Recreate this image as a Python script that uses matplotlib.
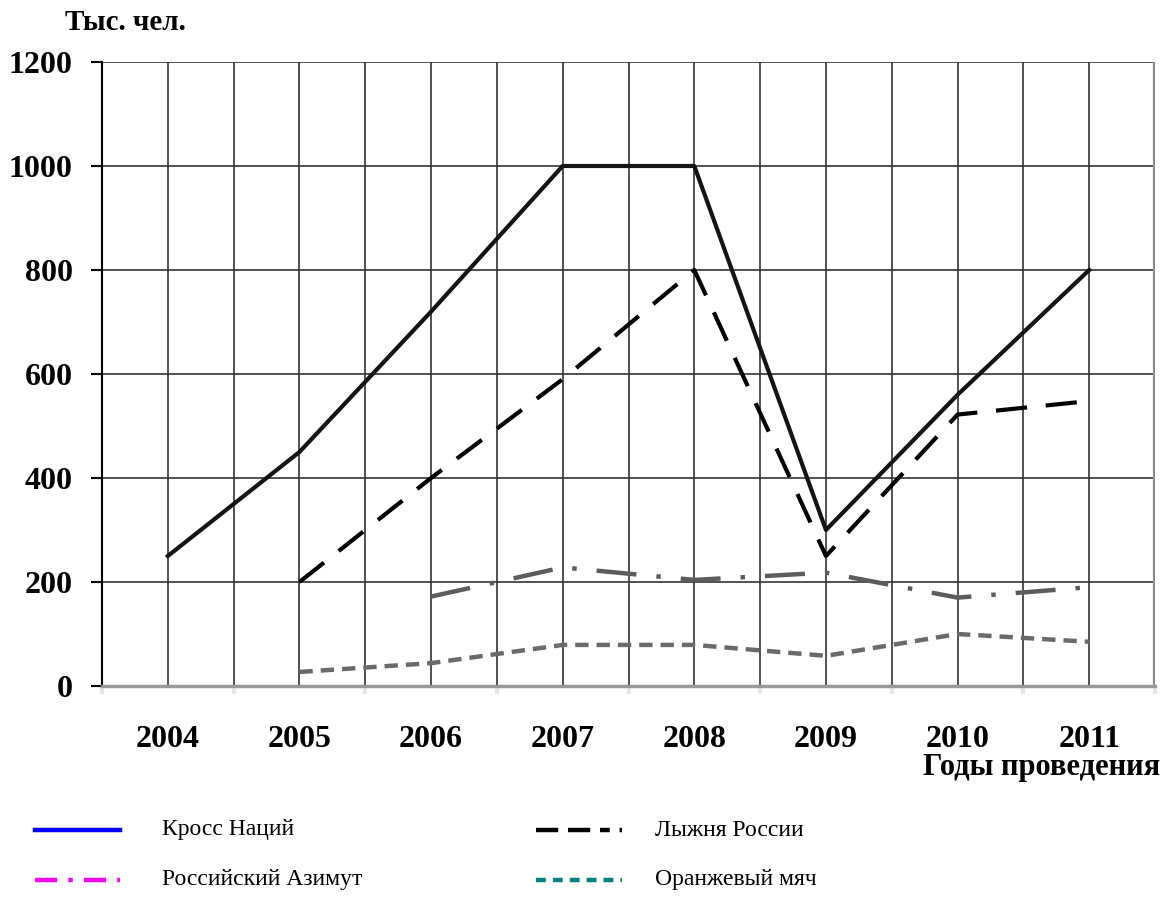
import matplotlib.pyplot as plt
from matplotlib.lines import Line2D

plt.rcParams["font.family"] = ["Liberation Serif", "DejaVu Serif"]

# Data (thousand people)
years = ["2004", "2005", "2006", "2007", "2008", "2009", "2010", "2011"]
x = list(range(len(years)))

kross = [250, 450, 720, 1000, 1000, 300, 560, 800]
lyzhnya = [None, 200, 400, 590, 800, 250, 522, 548]
azimut = [None, None, 172, 228, 204, 218, 170, 190]
myach = [None, 27, 44, 79, 79, 58, 100, 85]

names = ["Кросс Наций", "Лыжня России", "Российский Азимут", "Оранжевый мяч"]
legend_colors = ["#0000ff", "#000000", "#ff00ff", "#008080"]


def pairs(vals):
    xs = [i for i, v in zip(x, vals) if v is not None]
    ys = [v for v in vals if v is not None]
    return xs, ys


fig = plt.figure(figsize=(11.75, 9.02), dpi=100)
ax = fig.add_axes([102 / 1175, 216 / 902, 1053 / 1175, 624 / 902])

ax.set_xlim(-0.5, len(years) - 0.5)
ax.set_ylim(0, 1200)

# grid: every half category vertically, every 200 horizontally
for gx in [i * 0.5 - 0.5 for i in range(2 * len(years) + 1)]:
    ax.axvline(gx, color="#333333", lw=1.2, zorder=1)
for gy in range(200, 1201, 200):
    ax.axhline(gy, color="#333333", lw=1.2, zorder=1)
ax.axvline(len(years) - 0.5, color="#8a8a8a", lw=3, zorder=1)

ls_styles = [
    dict(color="#141414", lw=3.0, linestyle="-"),
    dict(color="#000000", lw=3.0, dashes=(7.5, 4.5)),
    dict(color="#5c5c5c", lw=3.2, dashes=(9.0, 4.5, 1.0, 4.5)),
    dict(color="#6a6a6a", lw=3.2, dashes=(3.0, 1.8)),
]
for vals, st in zip([kross, lyzhnya, azimut, myach], ls_styles):
    xs, ys = pairs(vals)
    ax.plot(xs, ys, zorder=3, solid_joinstyle="round", **st)

for side in ["top", "right"]:
    ax.spines[side].set_visible(False)
ax.spines["left"].set_color("#000000")
ax.spines["left"].set_linewidth(1.5)
ax.spines["bottom"].set_color("#9a9a9a")
ax.spines["bottom"].set_linewidth(2.5)

ax.set_yticks(range(0, 1201, 200))
ax.tick_params(axis="y", length=8, width=1.5, color="black", pad=13,
               labelsize=23)
for lab in ax.get_yticklabels():
    lab.set_fontweight("bold")

ax.set_xticks(x)
ax.set_xticklabels(years, fontsize=23, fontweight="bold")
ax.tick_params(axis="x", which="major", length=0, pad=28)
ax.set_xticks([i - 0.5 for i in range(len(years) + 1)], minor=True)
ax.tick_params(axis="x", which="minor", length=6, width=3, color="#e6e6e6")

fig.text(65 / 1175, 1 - 22 / 902, "Тыс. чел.", fontsize=21,
         fontweight="bold", va="center", ha="left")
fig.text(1160 / 1175, 1 - 768 / 902, "Годы проведения", fontsize=22,
         fontweight="bold", va="center", ha="right")

# legend drawn by hand in figure coordinates
leg_pos = [(35, 120, 162, 830), (536, 622, 655, 830),
           (35, 120, 162, 880), (536, 622, 655, 880)]
leg_styles = [
    dict(linestyle="-"),
    dict(dashes=(5, 2.2, 5, 2.2, 2.2, 2.2)),
    dict(dashes=(5, 2.5, 1, 2.5)),
    dict(dashes=(2.2, 1.6)),
]
for (x0, x1, tx, yy), name, col, st in zip(leg_pos, names, legend_colors,
                                          leg_styles):
    yf = 1 - yy / 902
    fig.add_artist(Line2D([x0 / 1175, x1 / 1175], [yf, yf], color=col,
                          lw=3.2, transform=fig.transFigure, **st))
    fig.text(tx / 1175, yf, name, fontsize=17, va="center", ha="left")

fig.savefig("out.png", dpi=100)
